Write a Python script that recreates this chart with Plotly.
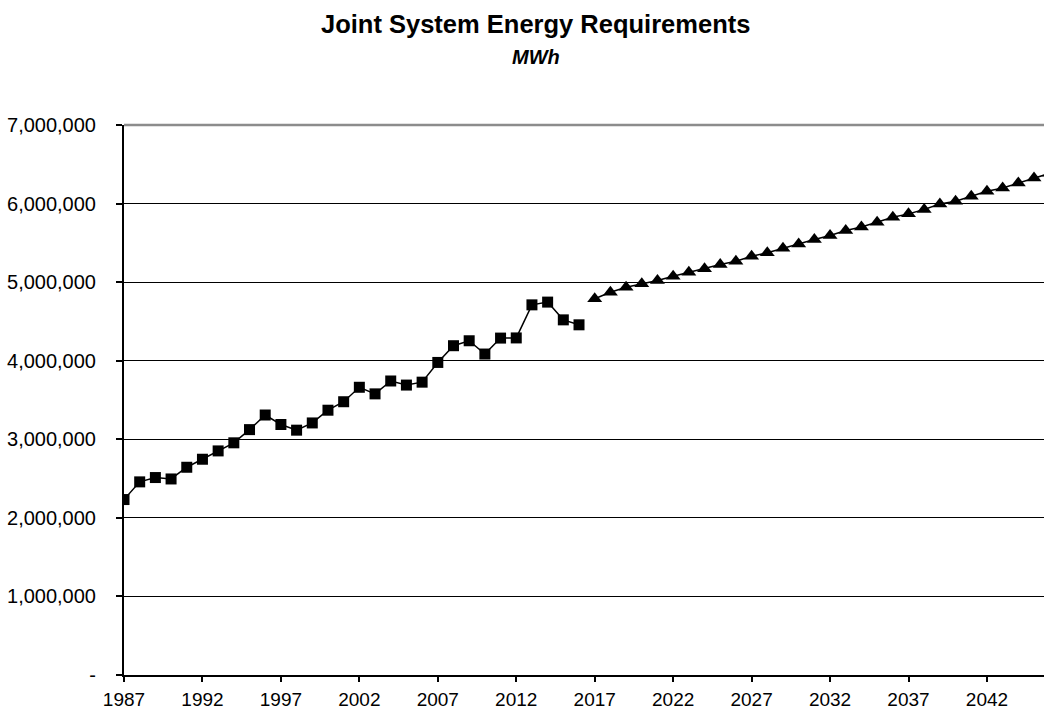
import plotly.graph_objects as go

# Historical (actual) energy requirements, MWh
hist_years = list(range(1987, 2017))
hist_values = [
    2233000, 2458000, 2513000, 2495000, 2644000, 2746000, 2852000, 2955000, 3123000, 3309000,
    3188000, 3116000, 3208000, 3370000, 3478000, 3662000, 3578000, 3742000, 3690000, 3727000,
    3978000, 4191000, 4254000, 4085000, 4288000, 4290000, 4711000, 4746000, 4520000, 4457000,
]

# Forecast energy requirements, MWh
fc_years = list(range(2017, 2047))
fc_values = [
    4788000, 4871000, 4934000, 4978000, 5021000, 5076000, 5127000, 5169000, 5225000, 5267000,
    5330000, 5373000, 5432000, 5487000, 5542000, 5593000, 5657000, 5703000, 5763000, 5826000,
    5869000, 5924000, 5996000, 6030000, 6093000, 6157000, 6199000, 6263000, 6326000, 6385000,
]

y_ticks = [0, 1000000, 2000000, 3000000, 4000000, 5000000, 6000000, 7000000]
y_ticktext = ["-", "1,000,000", "2,000,000", "3,000,000", "4,000,000",
              "5,000,000", "6,000,000", "7,000,000"]
x_ticks = list(range(1987, 2046, 5))

FONT = "Arial, 'Liberation Sans', sans-serif"

fig = go.Figure()
fig.add_trace(go.Scatter(
    x=hist_years, y=hist_values, mode="lines+markers",
    line=dict(color="black", width=1.5),
    marker=dict(symbol="square", size=11, color="black"),
    cliponaxis=True, showlegend=False,
))
fig.add_trace(go.Scatter(
    x=fc_years, y=fc_values, mode="lines+markers",
    line=dict(color="black", width=1.5),
    marker=dict(symbol="triangle-up", size=13, color="black"),
    cliponaxis=True, showlegend=False,
))

plot_left, plot_right = 124, 1044
px_per_year = 15.69
x_max = 1987 + (plot_right - plot_left) / px_per_year

fig.update_layout(
    width=1044, height=711,
    margin=dict(l=plot_left, r=0, t=125, b=36, autoexpand=False),
    paper_bgcolor="white", plot_bgcolor="white",
    font=dict(family=FONT, size=20, color="black"),
    xaxis=dict(
        range=[1987, x_max], tickmode="array", tickvals=x_ticks,
        ticks="outside", ticklen=5, tickwidth=1.5, tickcolor="black",
        showline=True, linecolor="black", linewidth=2,
        showgrid=False, zeroline=False, ticklabelstandoff=1,
        tickfont=dict(size=19),
    ),
    yaxis=dict(
        range=[0, 7000000], tickmode="array", tickvals=y_ticks, ticktext=y_ticktext,
        ticks="outside", ticklen=6, tickwidth=1.5, tickcolor="black",
        showline=True, linecolor="black", linewidth=2,
        showgrid=True, gridcolor="black", gridwidth=1.3,
        zeroline=False, ticklabelstandoff=16,
        tickfont=dict(size=20),
    ),
)

# top border (gray)
fig.add_shape(type="line", xref="paper", yref="paper", x0=0, x1=1, y0=1, y1=1,
              line=dict(color="#8c8c8c", width=2.5), layer="above")

plot_h = 711 - 125 - 36
title_x = (535.5 - plot_left) / (plot_right - plot_left)
fig.add_annotation(
    text="<b>Joint System Energy Requirements</b>", xref="paper", yref="paper",
    x=title_x, y=1 + (125 - 24) / plot_h, xanchor="center", yanchor="middle",
    showarrow=False, font=dict(family=FONT, size=25.5, color="black"),
)
fig.add_annotation(
    text="<b><i>MWh</i></b>", xref="paper", yref="paper",
    x=title_x, y=1 + (125 - 57) / plot_h, xanchor="center", yanchor="middle",
    showarrow=False, font=dict(family=FONT, size=20, color="black"),
)

fig.write_html("out.html")
